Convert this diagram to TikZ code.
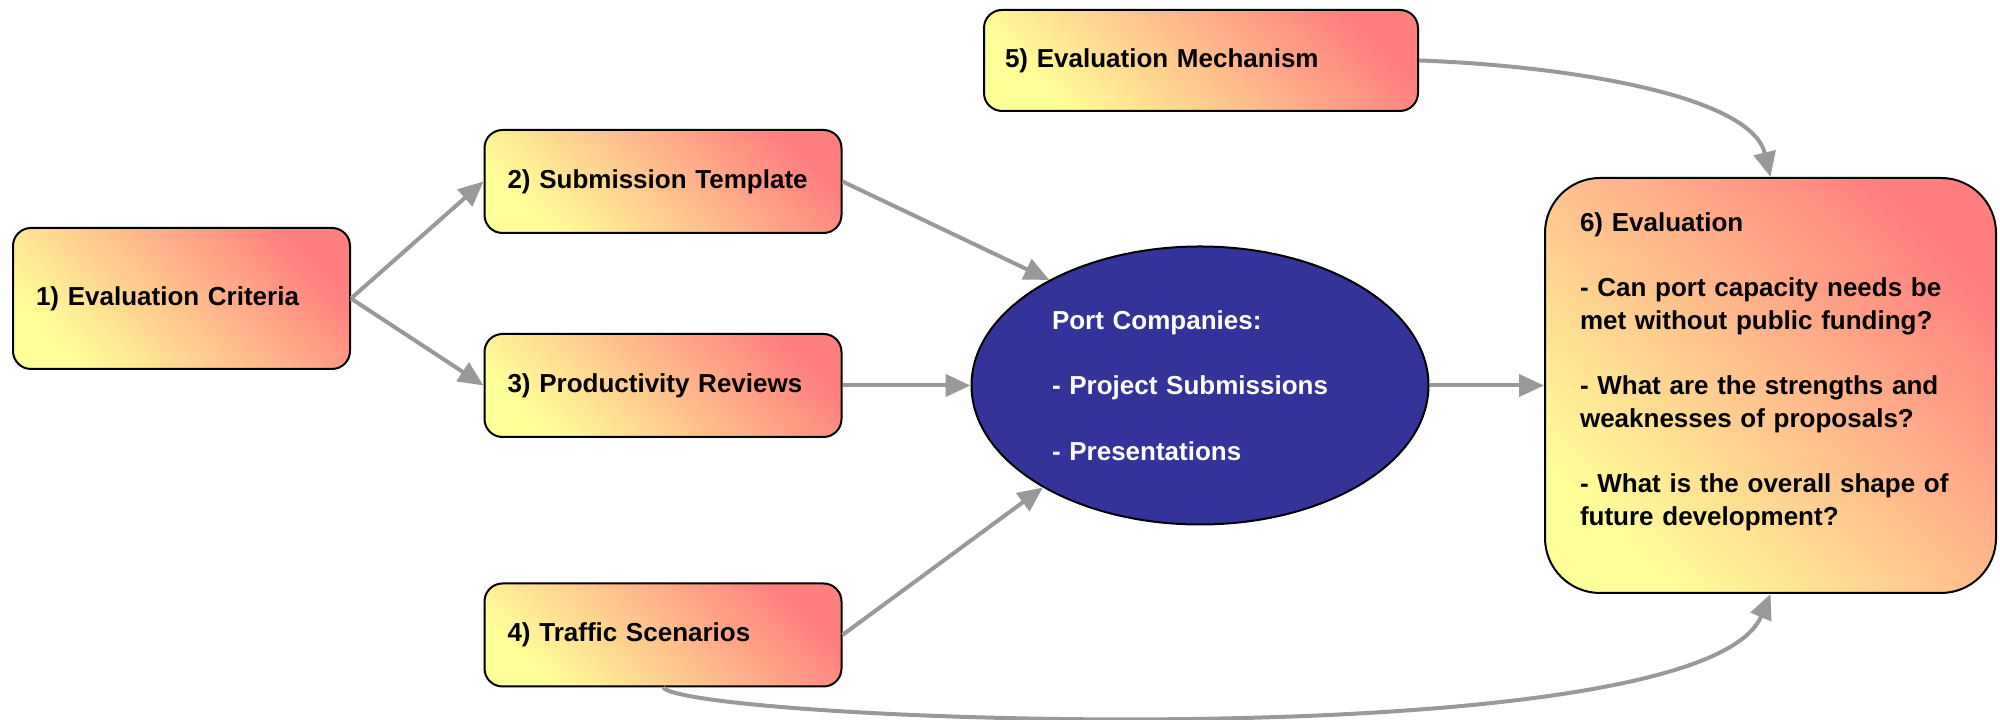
\documentclass[tikz,border=0pt]{standalone}
\usepackage{fontspec}
\setmainfont{Liberation Sans}
\usetikzlibrary{shapes.geometric,arrows.meta}
\definecolor{boxyellow}{HTML}{FFFF99}
\definecolor{boxred}{HTML}{FF7F7F}
\definecolor{linkgray}{HTML}{999999}
\definecolor{portblue}{HTML}{333399}
\begin{document}
\begin{tikzpicture}[every node/.style={font=\fontsize{7.4}{9.3}\selectfont\bfseries}]
		\def\acol{1.815}
		\def\bcol{6.63}
		\def\ccol{12.0}
		\def\dcol{17.705}
		\def\mrow{3.345}

		\tikzset{
			basic/.style={rectangle, draw=black, line width=0.02cm, bottom color=boxyellow, top color=boxred, shading angle=-45, align=left},
			inbox/.style={basic, rounded corners=0.18cm, inner xsep=0.23cm, inner ysep=0pt, text width=3.11cm, minimum height=1.03cm},
			evbox/.style={basic, rounded corners=0.55cm, inner xsep=0.35cm, inner ysep=0pt, text width=3.81cm, minimum height=4.15cm},
			portnode/.style={ellipse, draw=black, line width=0.02cm, fill=portblue, text=white, align=left, text width=2.96cm, minimum width=4.57cm, minimum height=2.78cm, inner sep=0pt},
			sarrow/.style={->, >={Triangle[length=0.25cm,width=0.22cm]}, draw=linkgray, line width=0.04cm}
		}

		\useasboundingbox (0,0) rectangle (20,7.2);

		% input Nodes

		\node[inbox, text width=2.91cm, minimum height=1.41cm] (IN_CRIT) at (\acol,4.215) {1) Evaluation Criteria};
		\node[inbox] (IN_TMPL) at (\bcol,5.385) {2) Submission Template};
		\node[inbox] (IN_PROD) at (\bcol,\mrow) {3) Productivity Reviews};
		\node[inbox] (IN_TRAF) at (\bcol,0.85) {4) Traffic Scenarios};

		% port companies and evaluation

		\node[portnode] (PC) at (\ccol,\mrow) {Port Companies:\\[9.3pt]- Project Submissions\\[9.3pt]- Presentations};
		\node[inbox, inner xsep=0.21cm, text width=3.92cm, minimum height=1.01cm] (EV_MECH) at (12.01,6.595) {5) Evaluation Mechanism};
		\node[evbox] (EV_OUT) at (\dcol,\mrow) {6) Evaluation\\[9.3pt]- Can port capacity needs be\\met without public funding?\\[9.3pt]- What are the strengths and\\weaknesses of proposals?\\[9.3pt]- What is the overall shape of\\future development?\\\mbox{}};

		% arrows

		\draw[sarrow] (IN_CRIT.east) -- (IN_TMPL.west);
		\draw[sarrow] (IN_CRIT.east) -- (IN_PROD.west);
		\draw[sarrow] (IN_TMPL.east) -- (PC.145);
		\draw[sarrow] (IN_PROD.east) -- (PC.west);
		\draw[sarrow] (IN_TRAF.east) -- (PC.213);
		\draw[sarrow] (PC.east) -- (EV_OUT.west);
		\draw[sarrow] (EV_MECH.east) .. controls +(1.42,-0.05) and +(-0.2,0.83) .. (EV_OUT.north);
		\draw[sarrow] (IN_TRAF.south) .. controls +(0.27,-0.34) and +(-0.7,-1.67) .. (EV_OUT.south);
	\end{tikzpicture}
\end{document}
